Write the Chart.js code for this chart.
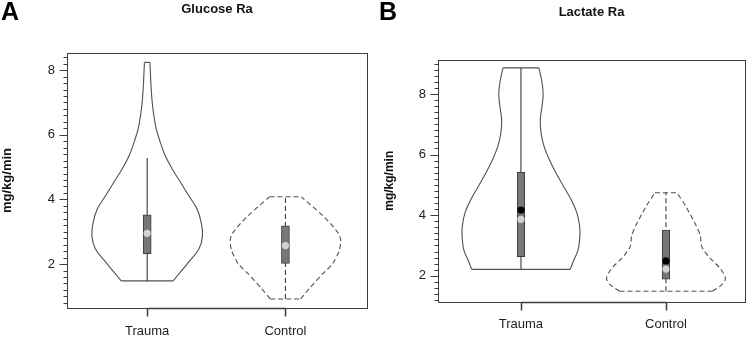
<!DOCTYPE html>
<html>
<head>
<meta charset="utf-8">
<script src="https://cdn.jsdelivr.net/npm/chart.js@4.4.1/dist/chart.umd.min.js"></script>
<style>
  body { margin: 0; background: #fff; width: 756px; height: 341px; overflow: hidden; position: relative; font-family: "Liberation Sans", Arial, sans-serif; }
  .panel { position: absolute; top: 0; width: 378px; height: 341px; }
  .panel canvas { display: block; }
  .tag { position: absolute; top: -3px; left: 1px; font-weight: bold; font-size: 25px; color: #000; }
</style>
</head>
<body>
<div class="panel" style="left:0"><canvas id="glucose" width="378" height="341"></canvas><div class="tag">A</div></div>
<div class="panel" style="left:378px"><canvas id="lactate" width="378" height="341"></canvas><div class="tag">B</div></div>
<script>
const groups = ['Trauma', 'Control'];
const yMajorTicks = [2, 4, 6, 8];
const minorTickStep = 0.2;

// Glucose Ra - violin outline: value levels and half widths (x units)
const glucTraumaLevels = [1.48, 1.75, 2.06, 2.47, 2.88, 3.30, 3.71, 4.12, 4.54, 4.95, 5.36, 5.78, 6.19, 6.60, 7.02, 7.43, 7.85, 8.24];
const glucTraumaHalf = [0.188, 0.24, 0.30, 0.375, 0.40, 0.39, 0.36, 0.30, 0.24, 0.18, 0.13, 0.094, 0.065, 0.048, 0.036, 0.029, 0.024, 0.02];
const glucControlLevels = [0.92, 1.28, 1.70, 2.00, 2.42, 2.73, 2.94, 3.25, 3.56, 4.08];
const glucControlHalf = [0.11, 0.18, 0.27, 0.34, 0.39, 0.40, 0.385, 0.326, 0.254, 0.115];
// [low whisker, q1, median, q3, high whisker]
const glucTraumaBox = [1.47, 2.32, 2.95, 3.52, 5.28];
const glucControlBox = [0.92, 2.02, 2.57, 3.18, 4.08];
const glucMeans = [];
const glucTickRange = [0.8, 8.4];

// Lactate Ra
const lactTraumaLevels = [2.21, 2.52, 2.85, 3.29, 3.62, 4.06, 4.50, 4.94, 5.38, 5.82, 6.26, 6.70, 7.14, 7.58, 8.02, 8.46, 8.86];
const lactTraumaHalf = [0.339, 0.365, 0.394, 0.406, 0.405, 0.387, 0.347, 0.295, 0.243, 0.197, 0.16, 0.139, 0.133, 0.145, 0.153, 0.142, 0.124];
const lactControlLevels = [1.49, 1.69, 1.91, 2.24, 2.57, 2.96, 3.34, 3.73, 4.33, 4.74];
const lactControlHalf = [0.32, 0.382, 0.41, 0.375, 0.306, 0.247, 0.236, 0.20, 0.132, 0.076];
const lactTraumaBox = [2.22, 2.63, 3.86, 5.41, 8.86];
const lactControlBox = [1.49, 1.89, 2.22, 3.51, 4.74];
const lactMeans = [4.17, 2.49];
const lactTickRange = [1.2, 9.0];

const lineColor = '#505050';
const axisColor = '#3c3c3c';
const dash = [5, 3];

Chart.defaults.font.family = '"Liberation Sans", Arial, sans-serif';
Chart.defaults.color = '#222';

function tickRange([lo, hi]) {
  const out = [];
  for (let v = lo; v <= hi + 1e-9; v += minorTickStep) out.push(Math.round(v * 10) / 10);
  return out;
}

function violin(pos, levels, half, dashed, tension) {
  const n = levels.length - 1;
  const style = { type: 'scatter', showLine: true, pointRadius: 0, borderColor: lineColor, borderWidth: 1.1, borderDash: dashed ? dash : [], order: 4 };
  const side = s => levels.map((v, i) => ({ x: pos + s * half[i], y: v }));
  const edge = i => [{ x: pos - half[i], y: levels[i] }, { x: pos + half[i], y: levels[i] }];
  return [side(-1), side(1)].map(d => ({ ...style, data: d, tension }))
    .concat([edge(0), edge(n)].map(d => ({ ...style, data: d })));
}

function whisker(pos, box, dashed) {
  return { type: 'scatter', showLine: true, pointRadius: 0, borderColor: '#3c3c3c', borderWidth: 1.1,
    borderDash: dashed ? dash : [], order: 3, data: [{ x: pos, y: box[0] }, { x: pos, y: box[4] }] };
}

// R-style axes: framed box, long/short ticks, x axis line between groups
const rAxes = {
  id: 'rAxes',
  afterDraw(chart) {
    const { ctx, chartArea: a, scales: { x, y } } = chart;
    const px = v => Math.round(v) + 0.5;
    ctx.save();
    ctx.strokeStyle = axisColor;
    ctx.lineWidth = 1;
    ctx.strokeRect(px(a.left), px(a.top), Math.round(a.right - a.left), Math.round(a.bottom - a.top));
    ctx.beginPath();
    y.ticks.forEach(t => {
      const yy = px(y.getPixelForValue(t.value));
      const len = yMajorTicks.includes(t.value) ? 8 : 4;
      ctx.moveTo(px(a.left) - len, yy);
      ctx.lineTo(px(a.left), yy);
    });
    ctx.stroke();

    const xs = x.ticks.map(t => px(x.getPixelForValue(t.value)));
    const base = px(a.bottom);
    ctx.lineWidth = 1.5;
    ctx.beginPath();
    ctx.moveTo(xs[0], base);
    ctx.lineTo(xs[xs.length - 1], base);
    xs.forEach(xx => {
      ctx.moveTo(xx, base);
      ctx.lineTo(xx, base + 8);
    });
    ctx.stroke();
    ctx.restore();
  }
};

function makeChart(id, c) {
  const datasets = [
    ...violin(1, c.traumaLevels, c.traumaHalf, false, 0.4),
    ...violin(2, c.controlLevels, c.controlHalf, true, c.controlTension),
    whisker(1, c.traumaBox, false),
    whisker(2, c.controlBox, true),
    {
      type: 'bar', order: 2, barThickness: c.boxWidth, backgroundColor: '#777', borderColor: '#3c3c3c',
      borderWidth: 1, borderSkipped: false,
      data: [{ x: 1, y: [c.traumaBox[1], c.traumaBox[3]] }, { x: 2, y: [c.controlBox[1], c.controlBox[3]] }]
    },
    {
      type: 'scatter', order: 1, pointRadius: 3.6, pointBorderWidth: 0, pointBackgroundColor: '#d2d2d2',
      data: [{ x: 1, y: c.traumaBox[2] }, { x: 2, y: c.controlBox[2] }]
    },
    {
      type: 'scatter', order: 0, pointRadius: 3.6, pointBorderWidth: 0, pointBackgroundColor: '#000',
      data: c.means.map((m, i) => ({ x: i + 1, y: m }))
    }
  ];
  const yTicks = tickRange(c.tickRange);
  return new Chart(document.getElementById(id).getContext('2d'), {
    type: 'scatter',
    data: { datasets },
    options: {
      responsive: false,
      animation: false,
      layout: { padding: { left: 0, right: 11, top: 0, bottom: 0 } },
      plugins: {
        legend: { display: false },
        tooltip: { enabled: false },
        title: {
          display: true, text: c.title, fullSize: false, align: 'center', color: '#111',
          font: { size: 13, weight: 'bold' }, padding: c.titlePad
        }
      },
      scales: {
        x: {
          type: 'linear', min: c.xRange[0], max: c.xRange[1], offset: false,
          afterBuildTicks: s => { s.ticks = groups.map((g, i) => ({ value: i + 1 })); },
          afterFit: s => { s.height = c.xHeight; },
          grid: { display: false, drawTicks: true, tickLength: 8 },
          border: { display: false },
          ticks: { callback: v => groups[v - 1], autoSkip: false, maxRotation: 0, padding: 7.5, color: '#222', font: { size: 13 } }
        },
        y: {
          type: 'linear', min: c.yRange[0], max: c.yRange[1],
          afterBuildTicks: s => { s.ticks = yTicks.map(v => ({ value: v })); },
          afterFit: s => { s.width = c.yWidth; },
          grid: { display: false, drawTicks: true, tickLength: 8 },
          border: { display: false },
          ticks: { callback: v => yMajorTicks.includes(v) ? String(v) : '', autoSkip: false, padding: 4, color: '#222', font: { size: 13 } },
          title: { display: true, text: 'mg/kg/min', color: '#111', font: { size: c.yTitleSize, weight: 'bold' }, padding: { top: c.yTitlePad, bottom: 0 } }
        }
      }
    },
    plugins: [rAxes]
  });
}

makeChart('glucose', {
  title: 'Glucose Ra', titlePad: { top: 2, bottom: 35.4 },
  traumaLevels: glucTraumaLevels, traumaHalf: glucTraumaHalf,
  controlLevels: glucControlLevels, controlHalf: glucControlHalf, controlTension: 0.2,
  traumaBox: glucTraumaBox, controlBox: glucControlBox, means: glucMeans,
  tickRange: glucTickRange, yRange: [0.64, 8.53], xRange: [0.42, 2.59],
  yWidth: 67, xHeight: 33, yTitleSize: 13, yTitlePad: 0, boxWidth: 8
});

makeChart('lactate', {
  title: 'Lactate Ra', titlePad: { top: 5, bottom: 39.4 },
  traumaLevels: lactTraumaLevels, traumaHalf: lactTraumaHalf,
  controlLevels: lactControlLevels, controlHalf: lactControlHalf, controlTension: 0.25,
  traumaBox: lactTraumaBox, controlBox: lactControlBox, means: lactMeans,
  tickRange: lactTickRange, yRange: [1.15, 9.12], xRange: [0.428, 2.545],
  yWidth: 60, xHeight: 39.5, yTitleSize: 12, yTitlePad: 4.8, boxWidth: 7.5
});
</script>
</body>
</html>
